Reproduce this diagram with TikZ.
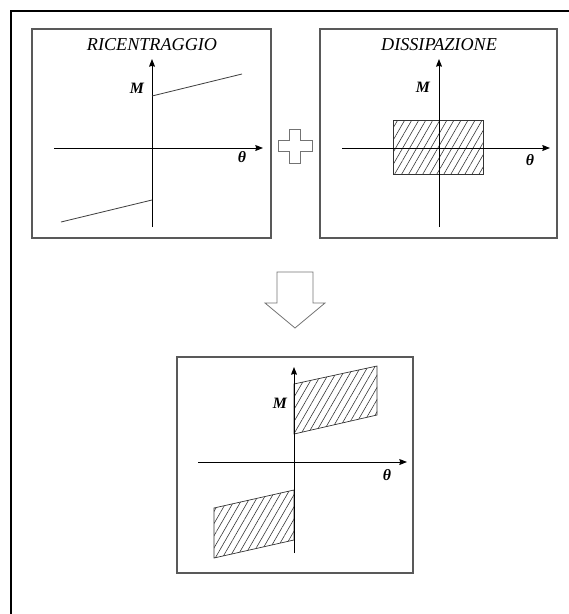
\documentclass[tikz,border=0pt]{standalone}
\usepackage{fontspec}
\setmainfont{Liberation Serif}
\usetikzlibrary{arrows.meta, patterns.meta}

\begin{document}
\begin{tikzpicture}[x=0.03cm, y=-0.03cm, >={Stealth[length=6.5pt, width=5pt, inset=0.6pt]},
      frame/.style={draw=black!65, line width=1.1pt},
      axis/.style={->, line width=0.8pt},
      curve/.style={draw=black!75, line width=0.7pt},
      lbl/.style={font=\bfseries\itshape\fontsize{13.5}{13.5}\selectfont},
      ttl/.style={font=\itshape\fontsize{15.5}{15.5}\selectfont},
      hatch/.style={draw=black!80, line width=0.6pt,
                    pattern={Lines[angle=60, distance=5.2pt, line width=0.5pt]},
                    pattern color=black!80},
      outl/.style={draw=black!55, line width=0.7pt}]
    \useasboundingbox (0,0) rectangle (569,614);
    \draw[line width=2.4pt] (569,11) -- (11,11) -- (11,614);

    % recentering
    \draw[frame] (32,29) rectangle (271,238);
    \node[ttl] (ric) at (152,45) {RICENTRAGGIO};
    \draw[axis] (54,148) -- (263,148);
    \draw[axis] (152,227) -- (152,59);
    \node[lbl] (mric) at (137,88) {M};
    \node[lbl] (tric) at (242,157) {θ};
    \draw[curve] (152,96) -- (242,74);
    \draw[curve] (61,222) -- (152,200);

    % plus
    \draw[outl] (289.5,129) -- (300.5,129) -- (300.5,140.5) -- (312,140.5)
      -- (312,151.5) -- (300.5,151.5) -- (300.5,163) -- (289.5,163)
      -- (289.5,151.5) -- (278,151.5) -- (278,140.5) -- (289.5,140.5) -- cycle;

    % dissipation
    \draw[frame] (320,29) rectangle (557,238);
    \node[ttl] (dis) at (439,45) {DISSIPAZIONE};
    \draw[hatch] (393,120) rectangle (483,174);
    \draw[axis] (342,148) -- (550,148);
    \draw[axis] (439,227) -- (439,59);
    \node[lbl] (mdis) at (423,87) {M};
    \node[lbl] (tdis) at (530,160) {θ};

    % down arrow
    \draw[outl] (277,272) -- (313,272) -- (313,303) -- (325,303) -- (295,328)
      -- (265,303) -- (277,303) -- cycle;

    % flag shape
    \draw[frame] (177,357) rectangle (413,573);
    \draw[hatch] (294,384) -- (377,366) -- (377,415) -- (294,434) -- cycle;
    \draw[hatch] (214,508) -- (294,490) -- (294,540) -- (214,558) -- cycle;
    \draw[axis] (198,462) -- (407,462);
    \draw[axis] (294,553) -- (294,367);
    \node[lbl] (mfl) at (280,403) {M};
    \node[lbl] (tfl) at (387,475) {θ};
  \end{tikzpicture}
\end{document}
